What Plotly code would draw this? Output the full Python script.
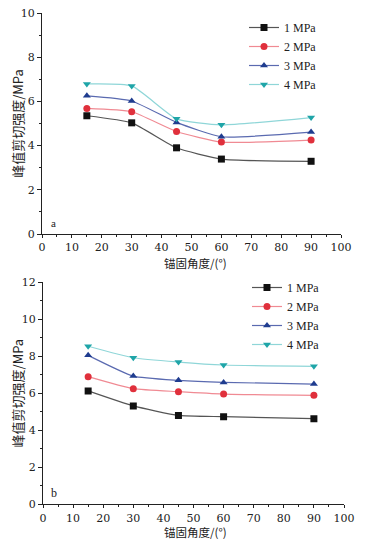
import plotly.graph_objects as go

angles = [15, 30, 45, 60, 90]
series_names = ["1 MPa", "2 MPa", "3 MPa", "4 MPa"]
a_1 = [5.35, 5.03, 3.90, 3.39, 3.29]
a_2 = [5.68, 5.53, 4.64, 4.16, 4.25]
a_3 = [6.25, 6.02, 5.05, 4.40, 4.61]
a_4 = [6.79, 6.70, 5.21, 4.94, 5.27]
b_1 = [6.12, 5.31, 4.80, 4.73, 4.62]
b_2 = [6.89, 6.24, 6.08, 5.95, 5.88]
b_3 = [8.04, 6.92, 6.69, 6.58, 6.49]
b_4 = [8.53, 7.91, 7.68, 7.52, 7.45]
x_ticks = [0, 10, 20, 30, 40, 50, 60, 70, 80, 90, 100]
ya_ticks = [0, 2, 4, 6, 8, 10]
yb_ticks = [0, 2, 4, 6, 8, 10, 12]
x_title = "锚固角度/(°)"
y_title = "峰值剪切强度/MPa"

marker_colors = ["#111111", "#e0303c", "#1f3c8f", "#1fa5a8"]
line_colors = ["#555555", "#f08a93", "#5a6ab0", "#8fd6d8"]
symbols = ["square", "circle", "triangle-up", "triangle-down"]

# page has an 8px body margin: figure is drawn at (8, 8)
W, H = 361, 533

fig = go.Figure()
for i, (name, ys) in enumerate(zip(series_names, [a_1, a_2, a_3, a_4])):
    fig.add_trace(go.Scatter(
        x=angles, y=ys, name=name, mode="lines+markers",
        line=dict(color=line_colors[i], width=1.2, shape="spline", smoothing=0.5),
        marker=dict(color=marker_colors[i], symbol=symbols[i], size=7),
        xaxis="x", yaxis="y", legend="legend"))
for i, (name, ys) in enumerate(zip(series_names, [b_1, b_2, b_3, b_4])):
    fig.add_trace(go.Scatter(
        x=angles, y=ys, name=name, mode="lines+markers",
        line=dict(color=line_colors[i], width=1.2, shape="spline", smoothing=0.5),
        marker=dict(color=marker_colors[i], symbol=symbols[i], size=7),
        xaxis="x2", yaxis="y2", legend="legend2"))

font_serif = "Liberation Serif, Times New Roman, serif"
font_tick = "DejaVu Serif, serif"
font_cjk = "Noto Sans CJK SC"

def xaxis(domain, anchor):
    return dict(domain=domain, anchor=anchor, range=[0, 100], tickvals=x_ticks,
                automargin=False, ticklabeloverflow="allow",
                ticks="outside", ticklen=3, tickwidth=1, tickcolor="#222",
                minor=dict(dtick=5, ticks="outside", ticklen=2, tickcolor="#222"),
                showline=True, linecolor="#222", linewidth=1, showgrid=False,
                zeroline=False, tickfont=dict(family=font_tick, size=11, color="#222"))

def yaxis(domain, anchor, rng, tv):
    return dict(domain=domain, anchor=anchor, range=rng, tickvals=tv,
                automargin=False, ticklabeloverflow="allow",
                ticks="outside", ticklen=4, tickwidth=1, tickcolor="#222",
                minor=dict(dtick=1, ticks="outside", ticklen=2, tickcolor="#222"),
                showline=True, linecolor="#222", linewidth=1, showgrid=False,
                zeroline=False, tickfont=dict(family=font_tick, size=11, color="#222"),
                title=dict(text=y_title, font=dict(family=font_cjk, size=13, color="#222"), standoff=1))

def legend(x, y):
    return dict(x=x / W, y=1 - y / H, xanchor="left", yanchor="top",
                bgcolor="rgba(0,0,0,0)", font=dict(family=font_serif, size=12, color="#222"),
                tracegroupgap=0, itemwidth=30)

fig.update_layout(
    width=W, height=H,
    margin=dict(l=0, r=0, t=0, b=0, autoexpand=False),
    paper_bgcolor="white", plot_bgcolor="white",
    showlegend=True,
    xaxis=xaxis([34 / W, 333 / W], "y"),
    yaxis=yaxis([1 - 226 / H, 1 - 5 / H], "x", [0, 10], ya_ticks),
    xaxis2=xaxis([35 / W, 336 / W], "y2"),
    yaxis2=yaxis([1 - 496.3 / H, 1 - 274 / H], "x2", [0, 12], yb_ticks),
    legend=legend(236, 5),
    legend2=legend(239, 265),
    annotations=[
        dict(text="a", x=4, y=0.5, xref="x", yref="y", showarrow=False,
             font=dict(family=font_serif, size=11, color="#222"), xanchor="center", yanchor="middle"),
        dict(text="b", x=3.5, y=0.6, xref="x2", yref="y2", showarrow=False,
             font=dict(family=font_serif, size=12, color="#222"), xanchor="center", yanchor="middle"),
        dict(text=x_title, x=187 / W, y=1 - 255 / H, xref="paper", yref="paper", showarrow=False,
             font=dict(family=font_cjk, size=11.5, color="#222"), xanchor="center", yanchor="middle"),
        dict(text=x_title, x=187 / W, y=1 - 524 / H, xref="paper", yref="paper", showarrow=False,
             font=dict(family=font_cjk, size=11.5, color="#222"), xanchor="center", yanchor="middle"),
    ],
)

fig.write_html("out.html")
